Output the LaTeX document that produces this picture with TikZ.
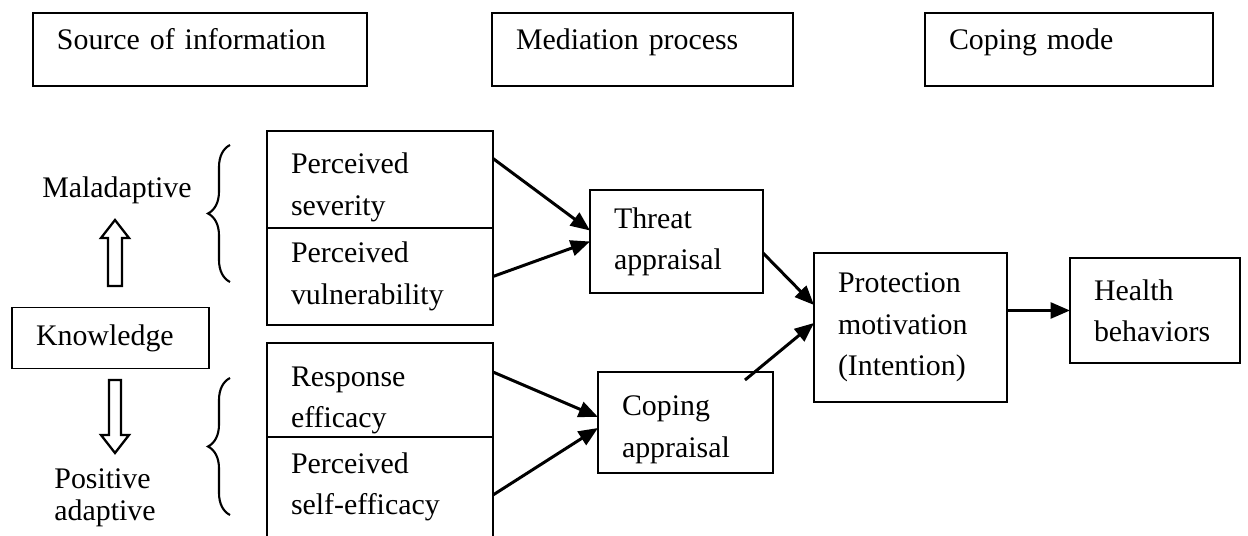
\documentclass[tikz,border=0pt]{standalone}
\usepackage{fontspec}
\setmainfont{Liberation Serif}
\usetikzlibrary{positioning,arrows.meta,decorations.pathreplacing}

\begin{document}
\begin{tikzpicture}[font=\fontsize{17}{23.5}\selectfont,
        box/.style={draw, line width=1.1pt, align=left, inner xsep=0.48cm, inner ysep=0pt, outer sep=0pt},
        flow/.style={line width=1.7pt, -{Triangle[length=11pt,width=9pt]}},
        hollow/.style={draw, line width=1.3pt, fill=white, line join=miter},
        curly/.style={decorate, decoration={brace, amplitude=0.44cm}, line width=1.2pt}]
        \useasboundingbox (0,0) rectangle (24.96,-10.72);
        % Header row: the three stages
        \node[box, anchor=north west, text width=5.72cm, text height=0.74cm, text depth=0.72cm] (src) at (0.66,-0.26) {Source of information};
        \node[box, anchor=north west, text width=5.06cm, text height=0.74cm, text depth=0.72cm] (med) at (9.84,-0.26) {Mediation process};
        \node[box, anchor=north west, text width=4.80cm, text height=0.74cm, text depth=0.72cm] (mode) at (18.5,-0.26) {Coping mode};
        % Source of information
        \node[box, text width=2.98cm, minimum height=1.22cm] (kno) at (2.21,-6.76) {Knowledge};
        \node (mal) at (2.34,-3.8) {Maladaptive};
        \node[align=left, font=\fontsize{17}{18}\selectfont] (pos) at (2.1,-9.96) {Positive\\adaptive};
        \draw[hollow] (2.16,-5.72) -- (2.16,-4.76) -- (2.02,-4.76) -- (2.30,-4.40)
            -- (2.58,-4.76) -- (2.44,-4.76) -- (2.44,-5.72) -- cycle;
        \draw[hollow] (2.18,-7.60) -- (2.18,-8.70) -- (2.02,-8.70) -- (2.30,-9.06)
            -- (2.58,-8.70) -- (2.42,-8.70) -- (2.42,-7.60) -- cycle;
        \draw[curly] (4.6,-5.64) -- (4.6,-2.90);
        \draw[curly] (4.6,-10.30) -- (4.6,-7.56);
        % Mediation process
        \node[box, text width=3.56cm, minimum height=1.94cm, text height=0.73cm] (sev) at (7.6,-3.59) {Perceived\\severity};
        \node[box, text width=3.56cm, minimum height=1.94cm, below=0pt of sev] (vul) {Perceived\\vulnerability};
        \node[box, text width=3.56cm, minimum height=1.88cm, text height=0.80cm] (res) at (7.6,-7.8) {Response\\efficacy};
        \node[box, text width=3.56cm, minimum height=2.00cm, below=0pt of res] (self) {Perceived\\self-efficacy};
        \node[box, text width=2.50cm, minimum height=2.06cm] (thr) at (13.53,-4.83) {Threat\\appraisal};
        \node[box, text width=2.54cm, minimum height=2.02cm, text height=0.69cm] (cpa) at (13.71,-8.45) {Coping\\appraisal};
        % Coping mode
        \node[box, text width=2.90cm, minimum height=2.98cm] (pro) at (18.21,-6.55) {Protection\\motivation\\(Intention)};
        \node[box, text width=2.44cm, minimum height=2.10cm] (hea) at (23.1,-6.21) {Health\\behaviors};
        % Paths
        \draw[flow] ([yshift=0.42cm]sev.east) -- ([yshift=0.22cm]thr.west);
        \draw[flow] (vul.east) -- (thr.west);
        \draw[flow] ([yshift=0.36cm]res.east) -- ([yshift=0.11cm]cpa.west);
        \draw[flow] ([yshift=-0.16cm]self.east) -- ([yshift=-0.11cm]cpa.west);
        \draw[flow] ([yshift=-0.23cm]thr.east) -- ([yshift=0.45cm]pro.west);
        \draw[flow] ([xshift=-0.56cm,yshift=-0.16cm]cpa.north east) -- ([yshift=0.09cm]pro.west);
        \draw[flow] (pro.east |- hea.west) -- (hea.west);
    \end{tikzpicture}
\end{document}
